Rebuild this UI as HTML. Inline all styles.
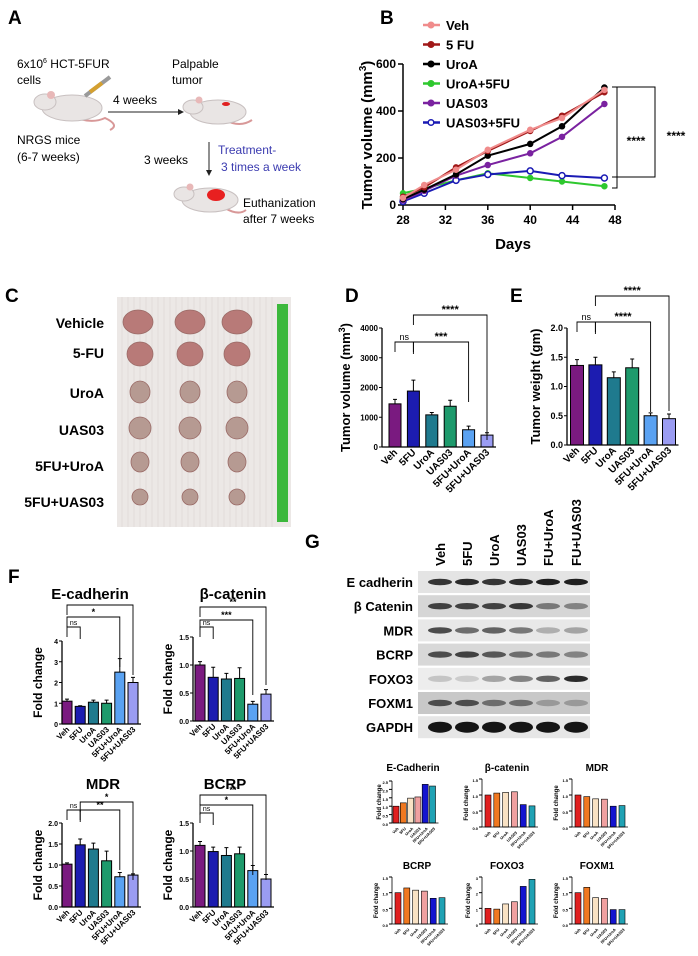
<!DOCTYPE html>
<html><head><meta charset="utf-8"><style>
html,body{margin:0;padding:0;background:#fff;}
svg{display:block;font-family:"Liberation Sans",Arial,sans-serif;}
</style></head><body>
<svg id="fig" width="698" height="956" viewBox="0 0 698 956" xmlns="http://www.w3.org/2000/svg">
<!-- Panel A -->
<g>
<text x="8" y="24" font-size="19" font-weight="bold">A</text>
<text x="17" y="68" font-size="12">6x10<tspan font-size="7" dy="-5">6</tspan><tspan dy="5"> HCT-5FUR</tspan></text>
<text x="17" y="84" font-size="12">cells</text>
<g>
<path d="M70 115 Q90 125 105 118 Q120 125 110 130" stroke="#d89898" stroke-width="2" fill="none"/>
<ellipse cx="72" cy="108" rx="30" ry="13" fill="#e9e5e4" stroke="#c8c0c0"/>
<ellipse cx="45" cy="102" rx="11" ry="8" fill="#e9e5e4" stroke="#c8c0c0"/>
<circle cx="51" cy="95" r="4" fill="#e8b8b8"/>
<line x1="85" y1="96" x2="110" y2="77" stroke="#999" stroke-width="4"/>
<line x1="90" y1="92" x2="102" y2="83" stroke="#d4a030" stroke-width="4"/>
</g>
<text x="113" y="104" font-size="12">4 weeks</text>
<line x1="108" y1="112" x2="178" y2="112" stroke="#222" stroke-width="1"/>
<path d="M178 109 L184 112 L178 115 Z" fill="#222"/>
<text x="172" y="68" font-size="12">Palpable</text>
<text x="172" y="84" font-size="12">tumor</text>
<g>
<path d="M225 120 Q240 128 252 120" stroke="#d89898" stroke-width="2" fill="none"/>
<ellipse cx="218" cy="112" rx="28" ry="12" fill="#e9e5e4" stroke="#c8c0c0"/>
<ellipse cx="193" cy="107" rx="10" ry="7" fill="#e9e5e4" stroke="#c8c0c0"/>
<circle cx="199" cy="100" r="3.5" fill="#e8b8b8"/>
<ellipse cx="226" cy="104" rx="4" ry="2" fill="#e02020"/>
</g>
<text x="17" y="144" font-size="12">NRGS mice</text>
<text x="17" y="161" font-size="12">(6-7 weeks)</text>
<text x="144" y="164" font-size="12">3 weeks</text>
<line x1="209" y1="142" x2="209" y2="170" stroke="#222"/>
<path d="M206 170 L209 176 L212 170 Z" fill="#222"/>
<text x="218" y="154" font-size="12" fill="#3b3bb0">Treatment-</text>
<text x="221" y="171" font-size="12" fill="#3b3bb0">3 times a week</text>
<g>
<path d="M225 208 Q238 216 246 210" stroke="#d89898" stroke-width="2" fill="none"/>
<ellipse cx="210" cy="200" rx="28" ry="12" fill="#e9e5e4" stroke="#c8c0c0"/>
<ellipse cx="184" cy="194" rx="10" ry="7" fill="#e9e5e4" stroke="#c8c0c0"/>
<circle cx="190" cy="187" r="3.5" fill="#e8b8b8"/>
<ellipse cx="216" cy="195" rx="9" ry="6" fill="#e82020"/>
</g>
<text x="243" y="207" font-size="12">Euthanization</text>
<text x="243" y="223" font-size="12">after 7 weeks</text>
</g>

<!-- Panel C -->
<g>
<text x="5" y="302" font-size="19" font-weight="bold">C</text>
<rect x="117" y="297" width="174" height="230" fill="#ece8e6"/>
<g id="grid" stroke="#d8d2d0" stroke-width="0.5"></g>
<rect x="277" y="304" width="11" height="218" fill="#3cb83c"/>
<g id="tumors"></g>
<g font-size="14" font-weight="bold" text-anchor="end">
<text x="104" y="328">Vehicle</text>
<text x="104" y="358">5-FU</text>
<text x="104" y="398">UroA</text>
<text x="104" y="435">UAS03</text>
<text x="104" y="471">5FU+UroA</text>
<text x="104" y="507">5FU+UAS03</text>
</g>
</g>

<!-- Panel B -->
<g id="panelB">
<text x="380" y="24" font-size="19" font-weight="bold">B</text>
<text x="513" y="249" font-size="15" font-weight="bold" text-anchor="middle">Days</text>
<text transform="translate(372,135) rotate(-90)" font-size="15" font-weight="bold" text-anchor="middle">Tumor volume (mm<tspan font-size="10" dy="-6">3</tspan><tspan dy="6">)</tspan></text>
</g>

<!-- Panel G blot -->
<g id="panelG">
<text x="305" y="548" font-size="19" font-weight="bold">G</text>
</g>
<g id="charts"></g>
<text x="345" y="302" font-size="19" font-weight="bold">D</text>
<text x="510" y="302" font-size="19" font-weight="bold">E</text>
<text x="8" y="583" font-size="19" font-weight="bold">F</text>
</svg>
<script>
const NS="http://www.w3.org/2000/svg";
const svg=document.getElementById('fig');
// ---- Data ----
const groups=["Veh","5FU","UroA","UAS03","5FU+UroA","5FU+UAS03"];
const barColors=["#7a1a80","#1c1cb0","#1f7a8e","#1e9a6c","#5aa2f2","#9a9cf2"];
const days=[28,30,33,36,40,43,47];
const seriesNames=["Veh","5 FU","UroA","UroA+5FU","UAS03","UAS03+5FU"];
const seriesColors=["#f08c8c","#a01818","#000000","#2ec82e","#7a22a0","#1a1ab4"];
const vehVals=[30,85,150,235,320,370,490];
const fuVals=[35,75,160,230,315,380,480];
const uroaVals=[25,65,130,210,260,335,500];
const uroaFuVals=[50,70,105,135,115,100,80];
const uasVals=[20,60,125,170,220,290,430];
const uasFuVals=[15,50,105,130,145,125,115];
const bXTicks=[28,32,36,40,44,48];
const bYTicks=[0,200,400,600];
const volumeD=[1450,1880,1080,1370,580,400];
const volumeDErr=[150,370,80,200,120,80];
const weightE=[1.36,1.37,1.15,1.32,0.5,0.45];
const weightEErr=[0.1,0.13,0.1,0.15,0.05,0.08];
const fEcad=[1.1,0.85,1.05,1.0,2.5,2.0];
const fEcadErr=[0.1,0.03,0.1,0.15,0.65,0.25];
const fBcat=[1.0,0.78,0.75,0.76,0.3,0.48];
const fBcatErr=[0.06,0.18,0.1,0.19,0.05,0.08];
const fMdr=[1.02,1.48,1.38,1.1,0.72,0.76];
const fMdrErr=[0.03,0.14,0.14,0.23,0.1,0.03];
const fBcrp=[1.1,0.99,0.92,0.95,0.65,0.5];
const fBcrpErr=[0.07,0.08,0.14,0.12,0.09,0.08];
const gColors=["#e02020","#f07820","#f9e2c4","#f0a0a0","#1414d0","#20a2b4"];
const gEcad=[1,1.2,1.48,1.55,2.3,2.2];
const gBcat=[1,1.06,1.08,1.1,0.7,0.66];
const gMdr=[1,0.95,0.88,0.87,0.65,0.67];
const gBcrp=[1,1.15,1.08,1.05,0.82,0.84];
const gFoxo3=[1,0.95,1.28,1.42,2.4,2.85];
const gFoxm1=[1,1.17,0.84,0.82,0.46,0.46];
const blotRows=["E cadherin","β Catenin","MDR","BCRP","FOXO3","FOXM1","GAPDH"];
const blotLanes=["Veh","5FU","UroA","UAS03","FU+UroA","FU+UAS03"];
const blotIntensity=[[0.8,0.85,0.8,0.85,0.9,0.9],[0.75,0.75,0.75,0.8,0.5,0.45],[0.7,0.55,0.6,0.5,0.25,0.3],[0.7,0.75,0.65,0.55,0.5,0.45],[0.15,0.12,0.3,0.45,0.6,0.85],[0.7,0.7,0.55,0.55,0.35,0.35],[0.95,0.95,0.95,0.95,0.95,0.95]];

function mk(tag,attrs,parent){const e=document.createElementNS(NS,tag);for(const k in attrs)e.setAttribute(k,attrs[k]);(parent||svg).appendChild(e);return e;}

// ---- Panel C decorations ----
const grid=document.getElementById('grid');
for(let x=122;x<277;x+=6){const l=mk('line',{x1:x,y1:297,x2:x,y2:527},grid);

}
const tumorRows=[322,354,392,428,462,497];
const tumorCols=[140,190,237];
const tumorSize=[[15,12],[13,12],[10,11],[11,11],[9,10],[8,8]];
const tg=document.getElementById('tumors');
tumorRows.forEach((ty,r)=>tumorCols.forEach((tx,c)=>{
 const t=mk('ellipse',{cx:tx+(r==0&&c==0?-2:0),cy:ty,rx:tumorSize[r][0],ry:tumorSize[r][1],fill:r<2?"#b87a78":"#b69a92",stroke:"#9a6a66","stroke-width":0.8},tg);
 
 
}));

// ---- Panel B line chart ----
const B=document.getElementById('panelB');
const bx=d=>403+(d-28)*(615-403)/20;
const by=v=>205-v*(205-64)/600;
mk('line',{x1:403,y1:64,x2:403,y2:205,stroke:"#000","stroke-width":1.5},B);
mk('line',{x1:403,y1:205,x2:615,y2:205,stroke:"#000","stroke-width":1.5},B);
bYTicks.forEach(v=>{mk('line',{x1:398,y1:by(v),x2:403,y2:by(v),stroke:"#000","stroke-width":1.5},B);
 const t=mk('text',{x:396,y:by(v)+4,"font-size":12,"font-weight":"bold","text-anchor":"end"},B);t.textContent=v;
 
 });
bXTicks.forEach(v=>{mk('line',{x1:bx(v),y1:205,x2:bx(v),y2:210,stroke:"#000","stroke-width":1.5},B);
 const t=mk('text',{x:bx(v),y:224,"font-size":12,"font-weight":"bold","text-anchor":"middle"},B);t.textContent=v;
 
 });
const allSeries=[vehVals,fuVals,uroaVals,uroaFuVals,uasVals,uasFuVals];
const drawOrder=[3,5,4,2,1,0];
drawOrder.forEach(i=>{
 const vals=allSeries[i];
 const p=mk('polyline',{points:vals.map((v,j)=>bx(days[j])+","+by(v)).join(" "),fill:"none",stroke:seriesColors[i],"stroke-width":2},B);
 
 
 vals.forEach((v,j)=>{
  const m=mk('circle',{cx:bx(days[j]),cy:by(v),r:i==5?3:2.5,fill:i==5?"#fff":seriesColors[i],stroke:seriesColors[i],"stroke-width":1.5},B);
  
  
 });
});
// legend
seriesNames.forEach((n,i)=>{
 const y=25+i*19.5;
 mk('line',{x1:423,y1:y,x2:440,y2:y,stroke:seriesColors[i],"stroke-width":2.5},B);
 mk('circle',{cx:431,cy:y,r:2.8,fill:i==5?"#fff":seriesColors[i],stroke:seriesColors[i],"stroke-width":1.5},B);
 const t=mk('text',{x:446,y:y+5,"font-size":13,"font-weight":"bold"},B);t.textContent=n;
 
 
});
// significance brackets
mk('path',{d:"M612 87 H617 V188 H612",fill:"none",stroke:"#000"},B);
mk('path',{d:"M617 87 H655 V177 H612",fill:"none",stroke:"#000"},B);
[[636,145],[676,140]].forEach(p=>{const t=mk('text',{x:p[0],y:p[1],"font-size":12,"font-weight":"bold","text-anchor":"middle"},B);t.textContent="****";
 
 });

// ---- Generic bar chart ----
const C=document.getElementById('charts');
function barChart(o){
 const g=mk('g',{},C);
 
 
 const yv=v=>o.y0-v*(o.y0-o.yTop)/o.max;
 const fs=o.fs||8;
 o.vals.forEach((v,i)=>{
  const cx=o.x0+i*o.pitch;
  const r=mk('rect',{x:cx-o.bw/2,y:yv(v),width:o.bw,height:o.y0-yv(v),fill:o.colors[i],stroke:o.stroke||"#000","stroke-width":o.sw||1},g);
  
  
  if(o.err){mk('path',{d:`M${cx} ${yv(v)} V${yv(v+o.err[i])} M${cx-2} ${yv(v+o.err[i])} H${cx+2}`,stroke:"#000",fill:"none","stroke-width":1},g);}
  const lt=mk('text',{transform:`translate(${cx+3},${o.y0+6}) rotate(-45)`,"font-size":o.lfs||fs,"font-weight":"bold","text-anchor":"end"},g);
  lt.textContent=groups[i];
  
  
 });
 const xEnd=o.x0+5*o.pitch+o.bw/2+3;
 mk('line',{x1:o.ax,y1:o.yTop,x2:o.ax,y2:o.y0,stroke:"#000","stroke-width":o.axw||1.3},g);
 mk('line',{x1:o.ax,y1:o.y0,x2:xEnd,y2:o.y0,stroke:"#000","stroke-width":o.axw||1.3},g);
 o.ticks.forEach((v,k)=>{mk('line',{x1:o.ax-3,y1:yv(v),x2:o.ax,y2:yv(v),stroke:"#000"},g);
  const t=mk('text',{x:o.ax-4,y:yv(v)+3,"font-size":o.tkfs||fs,"font-weight":"bold","text-anchor":"end"},g);t.textContent=o.tickLabels[k];
  
  });
 if(o.ytitle){const t=mk('text',{transform:`translate(${o.tx},${(o.y0+o.yTop)/2}) rotate(-90)`,"font-size":o.tfs,"font-weight":"bold","text-anchor":"middle"},g);
  t.innerHTML=o.ytitle;
  
  }
 if(o.title){const t=mk('text',{x:o.titleX,y:o.titleY,"font-size":o.titleFs,"font-weight":"bold","text-anchor":"middle"},g);t.textContent=o.title;
  
  }
 (o.brackets||[]).forEach(b=>{
  const x1=o.x0+b[0]*o.pitch,x2=o.x0+b[1]*o.pitch;
  mk('path',{d:`M${x1} ${b[2]+10} V${b[2]} H${x2} V${b[2]+(b[4]||12)}`,fill:"none",stroke:"#000","stroke-width":0.9},g);
  const t=mk('text',{x:(x1+x2)/2,y:b[2]-2,"font-size":b[3]=="ns"?fs:fs+2,"text-anchor":"middle","font-weight":b[3]=="ns"?"normal":"bold"},g);t.textContent=b[3];
  
  
 });
}
barChart({name:"chart-d-tumor-volume",vals:volumeD,err:volumeDErr,colors:barColors,x0:395,pitch:18.4,bw:12,ax:382,y0:447,yTop:328,max:4000,ticks:[0,1000,2000,3000,4000],tickLabels:["0","1000","2000","3000","4000"],fs:9,tkfs:8,lfs:10,ytitle:'Tumor volume (mm<tspan font-size="9" dy="-5">3</tspan><tspan dy="5">)</tspan>',tx:350,tfs:13,brackets:[[0,1,342,"ns"],[1,4,342,"***",60],[1,5,315,"****",125]]});
barChart({name:"chart-e-tumor-weight",vals:weightE,err:weightEErr,colors:barColors,x0:577,pitch:18.4,bw:13,ax:567,y0:445,yTop:328,max:2,ticks:[0,0.5,1,1.5,2],tickLabels:["0.0","0.5","1.0","1.5","2.0"],fs:9,lfs:10,ytitle:"Tumor weight (gm)",tx:540,tfs:13,brackets:[[0,1,322,"ns"],[1,4,322,"****",90],[1,5,296,"****",115]]});
const fOpts={colors:barColors,pitch:13.2,bw:10,fs:7,lfs:8,tfs:12,titleFs:15};
barChart(Object.assign({},fOpts,{name:"chart-f-e-cadherin",vals:fEcad,err:fEcadErr,x0:67,ax:62,y0:724,yTop:641,max:4,ticks:[0,1,2,3,4],tickLabels:["0","1","2","3","4"],ytitle:"Fold change",tx:42,title:"E-cadherin",titleX:90,titleY:599,brackets:[[0,1,627,"ns"],[0,4,617,"*",50],[0,5,605,"*",70]]}));
barChart(Object.assign({},fOpts,{name:"chart-f-beta-catenin",vals:fBcat,err:fBcatErr,x0:200,ax:193,y0:721,yTop:637,max:1.5,ticks:[0,0.5,1,1.5],tickLabels:["0.0","0.5","1.0","1.5"],ytitle:"Fold change",tx:172,title:"β-catenin",titleX:233,titleY:599,brackets:[[0,1,627,"ns"],[0,4,620,"***",75],[0,5,607,"**",78]]}));
barChart(Object.assign({},fOpts,{name:"chart-f-mdr",vals:fMdr,err:fMdrErr,x0:67,ax:62,y0:907,yTop:823,max:2,ticks:[0,0.5,1,1.5,2],tickLabels:["0.0","0.5","1.0","1.5","2.0"],ytitle:"Fold change",tx:42,title:"MDR",titleX:103,titleY:789,brackets:[[0,1,810,"ns"],[1,4,810,"**",60],[1,5,802,"*",78]]}));
barChart(Object.assign({},fOpts,{name:"chart-f-bcrp",vals:fBcrp,err:fBcrpErr,x0:200,ax:193,y0:907,yTop:823,max:1.5,ticks:[0,0.5,1,1.5],tickLabels:["0.0","0.5","1.0","1.5"],ytitle:"Fold change",tx:172,title:"BCRP",titleX:225,titleY:789,brackets:[[0,1,813,"ns"],[0,4,805,"*",70],[0,5,795,"**",85]]}));
const gOpts={colors:gColors,bw:6,fs:4,lfs:4,tfs:6,titleFs:10,sw:0.6,axw:0.8};
barChart(Object.assign({},gOpts,{name:"chart-g-e-cadherin",vals:gEcad,x0:396,pitch:7.3,ax:392,y0:823,yTop:781,max:2.5,ticks:[0,0.5,1,1.5,2,2.5],tickLabels:["0.0","0.5","1.0","1.5","2.0","2.5"],ytitle:"Fold change",tx:381,title:"E-Cadherin",titleX:413,titleY:771}));
barChart(Object.assign({},gOpts,{name:"chart-g-beta-catenin",vals:gBcat,x0:488,pitch:8.8,ax:482,y0:827,yTop:779,max:1.5,ticks:[0,0.5,1,1.5],tickLabels:["0.0","0.5","1.0","1.5"],ytitle:"Fold change",tx:468,title:"β-catenin",titleX:507,titleY:771}));
barChart(Object.assign({},gOpts,{name:"chart-g-mdr",vals:gMdr,x0:578,pitch:8.8,ax:572,y0:827,yTop:779,max:1.5,ticks:[0,0.5,1,1.5],tickLabels:["0.0","0.5","1.0","1.5"],ytitle:"Fold change",tx:558,title:"MDR",titleX:597,titleY:771}));
barChart(Object.assign({},gOpts,{name:"chart-g-bcrp",vals:gBcrp,x0:398,pitch:8.8,ax:392,y0:924,yTop:877,max:1.5,ticks:[0,0.5,1,1.5],tickLabels:["0.0","0.5","1.0","1.5"],ytitle:"Fold change",tx:378,title:"BCRP",titleX:417,titleY:869}));
barChart(Object.assign({},gOpts,{name:"chart-g-foxo3",vals:gFoxo3,x0:488,pitch:8.8,ax:482,y0:924,yTop:877,max:3,ticks:[0,1,2,3],tickLabels:["0","1","2","3"],ytitle:"Fold change",tx:470,title:"FOXO3",titleX:507,titleY:869}));
barChart(Object.assign({},gOpts,{name:"chart-g-foxm1",vals:gFoxm1,x0:578,pitch:8.8,ax:572,y0:924,yTop:877,max:1.5,ticks:[0,0.5,1,1.5],tickLabels:["0.0","0.5","1.0","1.5"],ytitle:"Fold change",tx:558,title:"FOXM1",titleX:597,titleY:869}));

// ---- Panel G blot ----
const G=document.getElementById('panelG');
const laneX=[440,467,494,521,548,576];
blotRows.forEach((name,r)=>{
 const y=582+r*24.2;
 const bg=mk('rect',{x:418,y:y-11,width:172,height:22,fill:["#e4e4e4","#d6d6d6","#e8e8e8","#d8d8d8","#ededed","#c8c8c8","#e6e6e6"][r]},G);
 
 
 const t=mk('text',{x:413,y:y+5,"font-size":13,"font-weight":"bold","text-anchor":"end"},G);t.textContent=name;
 
 
 blotIntensity[r].forEach((v,i)=>{
  const gv=Math.round(230-v*220);
  const b=mk('ellipse',{cx:laneX[i],cy:y,rx:12,ry:r==6?5.5:3.2,fill:`rgb(${gv},${gv},${gv})`},G);
  
  
 });
});
blotLanes.forEach((n,i)=>{
 const t=mk('text',{transform:`translate(${laneX[i]+5},566) rotate(-90)`,"font-size":13,"font-weight":"bold"},G);t.textContent=n;
 
 
});
</script>
</body></html>
